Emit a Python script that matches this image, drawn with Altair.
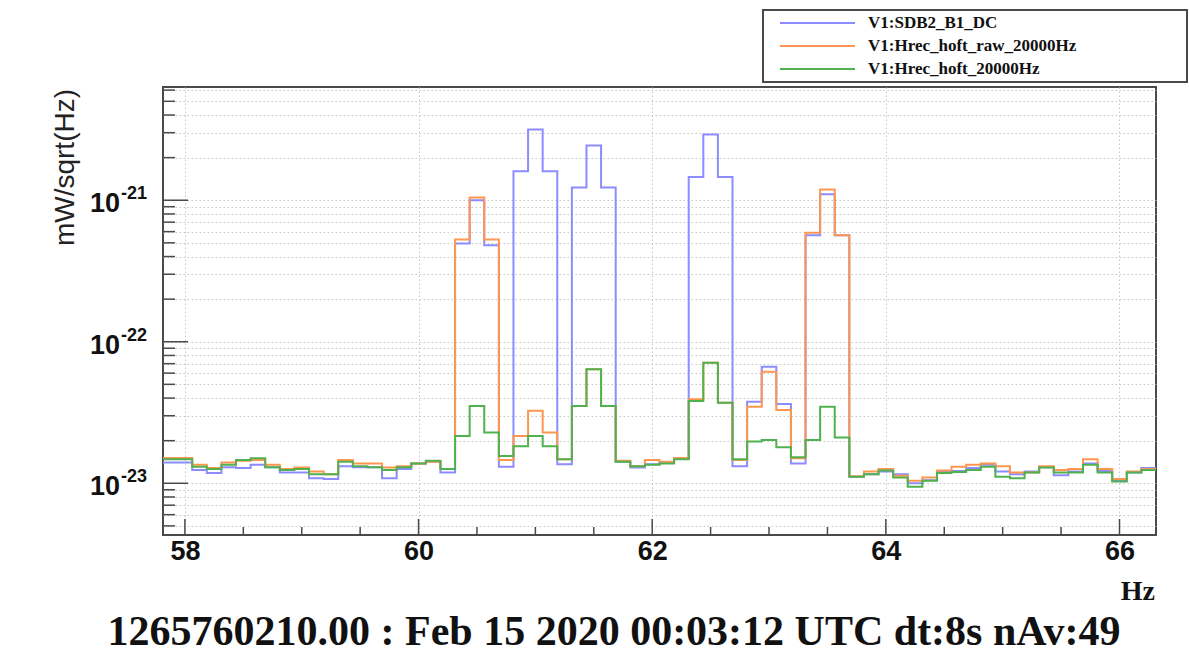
import altair as alt
import pandas as pd

# Amplitude spectral density around the 60 Hz lines, 8 s FFT -> 0.125 Hz bins.
BIN_WIDTH = 0.125
FIRST_CENTRE = 57.875
N_BINS = 68
freq = [round(FIRST_CENTRE + BIN_WIDTH * i, 4) for i in range(N_BINS)]

UNIT = 1e-23  # the series below are in units of 1e-23 mW/sqrt(Hz)

sdb2_b1_dc = [
    1.40, 1.40, 1.24, 1.18, 1.30, 1.28, 1.35, 1.30, 1.19, 1.19,
    1.085, 1.07, 1.32, 1.30, 1.30, 1.085, 1.26, 1.38, 1.42, 1.19,
    49.4, 100.0, 48.1, 1.31, 160.0, 316.0, 160.0, 1.36, 123.0, 244.0,
    123.0, 1.42, 1.29, 1.36, 1.40, 1.50, 146.0, 291.0, 146.0, 1.32,
    3.77, 6.65, 3.63, 1.38, 56.6, 110.0, 56.6, 1.11, 1.16, 1.21,
    1.16, 1.00, 1.05, 1.21, 1.22, 1.28, 1.35, 1.21, 1.16, 1.21,
    1.30, 1.14, 1.21, 1.38, 1.22, 1.05, 1.19, 1.28,
]
hrec_hoft_raw = [
    1.51, 1.51, 1.35, 1.28, 1.40, 1.44, 1.46, 1.35, 1.26, 1.29,
    1.21, 1.16, 1.46, 1.38, 1.38, 1.29, 1.32, 1.38, 1.42, 1.26,
    52.8, 104.5, 52.8, 1.46, 2.16, 3.25, 2.28, 1.48, 3.52, 6.38,
    3.52, 1.44, 1.32, 1.46, 1.42, 1.51, 3.92, 7.10, 3.71, 1.46,
    3.47, 6.13, 3.29, 1.50, 58.8, 119.0, 56.6, 1.12, 1.21, 1.26,
    1.13, 1.04, 1.10, 1.23, 1.31, 1.35, 1.38, 1.32, 1.19, 1.19,
    1.32, 1.24, 1.26, 1.48, 1.26, 1.07, 1.21, 1.26,
]
hrec_hoft = [
    1.48, 1.48, 1.31, 1.26, 1.35, 1.46, 1.50, 1.30, 1.24, 1.26,
    1.16, 1.16, 1.42, 1.32, 1.30, 1.24, 1.30, 1.38, 1.44, 1.26,
    2.16, 3.52, 2.28, 1.56, 1.83, 2.16, 1.83, 1.48, 3.52, 6.38,
    3.52, 1.42, 1.32, 1.35, 1.38, 1.48, 3.81, 7.10, 3.71, 1.48,
    1.97, 2.02, 1.80, 1.53, 2.02, 3.47, 2.11, 1.11, 1.16, 1.23,
    1.10, 0.946, 1.04, 1.18, 1.20, 1.24, 1.31, 1.11, 1.085, 1.19,
    1.29, 1.19, 1.19, 1.35, 1.19, 1.03, 1.19, 1.24,
]

channels = ["V1:SDB2_B1_DC", "V1:Hrec_hoft_raw_20000Hz", "V1:Hrec_hoft_20000Hz"]
channel_values = [sdb2_b1_dc, hrec_hoft_raw, hrec_hoft]
channel_colors = ["#8c8cff", "#ff9650", "#4fb24f"]

x_ticks_major = [58, 60, 62, 64, 66]
x_ticks_minor = [58.5, 59, 59.5, 60.5, 61, 61.5, 62.5, 63, 63.5, 64.5, 65, 65.5]
y_decades = [1e-23, 1e-22, 1e-21]
y_exponents = ["-23", "-22", "-21"]
y_minor = ([m * 1e-24 for m in range(5, 10)] + [m * 1e-23 for m in range(2, 10)]
           + [m * 1e-22 for m in range(2, 10)] + [m * 1e-21 for m in range(2, 7)])

W, H = 993, 448
SANS = "Liberation Sans"
SERIF = "Liberation Serif"
FRAME = "#4a4a4a"
GRID = "#c6c6c6"

x_scale = alt.Scale(domain=[57.8125, 66.3125], nice=False, zero=False)
y_scale = alt.Scale(type="log", domain=[4.31e-24, 6.31e-21], nice=False)

x_axis = alt.Axis(values=x_ticks_major, grid=True, gridDash=[1.5, 2.5], gridColor=GRID,
                  gridWidth=1, ticks=False, tickSize=0, domain=False, title=None,
                  labelFont=SANS, labelFontSize=27, labelFontWeight="bold",
                  labelColor="#111", labelPadding=3, labelFlush=False)
y_axis = alt.Axis(values=y_decades + y_minor, grid=True, gridDash=[1.5, 2.5],
                  gridColor=GRID, gridWidth=1, ticks=False, tickSize=0, domain=False,
                  labels=False, title=None)

x_enc = alt.X("f:Q", scale=x_scale, axis=x_axis)
y_enc = alt.Y("asd:Q", scale=y_scale, axis=y_axis)

# step histograms: one point per left bin edge plus the closing right edge
layers = []
for name, vals, col in zip(channels, channel_values, channel_colors):
    edges = [c - BIN_WIDTH / 2 for c in freq] + [freq[-1] + BIN_WIDTH / 2]
    amps = [v * UNIT for v in vals] + [vals[-1] * UNIT]
    df = pd.DataFrame({"f": edges, "asd": amps, "channel": name})
    layers.append(
        alt.Chart(df).mark_line(interpolate="step-after", color=col, strokeWidth=2,
                                clip=True)
        .encode(x=x_enc, y=y_enc)
    )

# inward ticks on the frame
xt_major = alt.Chart(pd.DataFrame({"f": x_ticks_major})).mark_rule(
    color=FRAME, strokeWidth=1.5).encode(x=x_enc, y=alt.value(H), y2=alt.value(H - 16))
xt_minor = alt.Chart(pd.DataFrame({"f": x_ticks_minor})).mark_rule(
    color=FRAME, strokeWidth=1.5).encode(x=x_enc, y=alt.value(H), y2=alt.value(H - 8))
yt_major = alt.Chart(pd.DataFrame({"asd": y_decades})).mark_rule(
    color=FRAME, strokeWidth=1.5).encode(y=y_enc, x=alt.value(0), x2=alt.value(25))
yt_minor = alt.Chart(pd.DataFrame({"asd": y_minor})).mark_rule(
    color=FRAME, strokeWidth=1.5).encode(y=y_enc, x=alt.value(0), x2=alt.value(12))

# y labels as 10 with a raised exponent
ylab_df = pd.DataFrame({"asd": y_decades, "exp": y_exponents, "base": ["10"] * 3})
ylab_base = alt.Chart(ylab_df).mark_text(
    align="right", baseline="middle", font=SANS, fontSize=27, fontWeight="bold",
    color="#111", dy=4).encode(y=y_enc, x=alt.value(-43), text="base:N")
ylab_exp = alt.Chart(ylab_df).mark_text(
    align="left", baseline="middle", font=SANS, fontSize=18, fontWeight="bold",
    color="#111", dy=-6).encode(y=y_enc, x=alt.value(-42), text="exp:N")

one = pd.DataFrame({"k": [0]})

y_title = alt.Chart(one).mark_text(
    text="mW/sqrt(Hz)", angle=270, align="right", baseline="middle", font=SANS,
    fontSize=28, color="#222").encode(x=alt.value(-97), y=alt.value(2))

x_title = alt.Chart(one).mark_text(
    text="Hz", align="right", baseline="alphabetic", font=SERIF, fontSize=28,
    fontWeight="bold", color="#111").encode(x=alt.value(W - 1), y=alt.value(513))

footer = alt.Chart(one).mark_text(
    text="1265760210.00 : Feb 15 2020 00:03:12 UTC dt:8s nAv:49", align="center",
    baseline="alphabetic", font=SERIF, fontSize=42, fontWeight="bold",
    color="#111").encode(x=alt.value(451), y=alt.value(558))

# legend box above the frame
leg_box = alt.Chart(one).mark_rect(fill="white", stroke=FRAME, strokeWidth=2).encode(
    x=alt.value(600), x2=alt.value(1024), y=alt.value(-77), y2=alt.value(-5))
leg_layers = [leg_box]
for i, (name, col) in enumerate(zip(channels, channel_colors)):
    row_y = -64 + 23 * i
    leg_layers.append(alt.Chart(one).mark_rule(color=col, strokeWidth=2).encode(
        x=alt.value(617), x2=alt.value(692), y=alt.value(row_y)))
    leg_layers.append(alt.Chart(one).mark_text(
        text=name, align="left", baseline="middle", font=SERIF, fontSize=17,
        fontWeight="bold", color="#111").encode(x=alt.value(705), y=alt.value(row_y)))

chart = alt.layer(
    *layers, xt_major, xt_minor, yt_major, yt_minor, ylab_base, ylab_exp,
    y_title, x_title, footer, *leg_layers
).properties(
    width=W, height=H,
    autosize=alt.AutoSizeParams(type="none"),
    padding={"left": 163, "top": 87, "right": 33, "bottom": 118},
    background="white",
).configure_view(stroke=FRAME, strokeWidth=2)

chart.save("out.html", embed_options={"renderer": "svg", "actions": False})
